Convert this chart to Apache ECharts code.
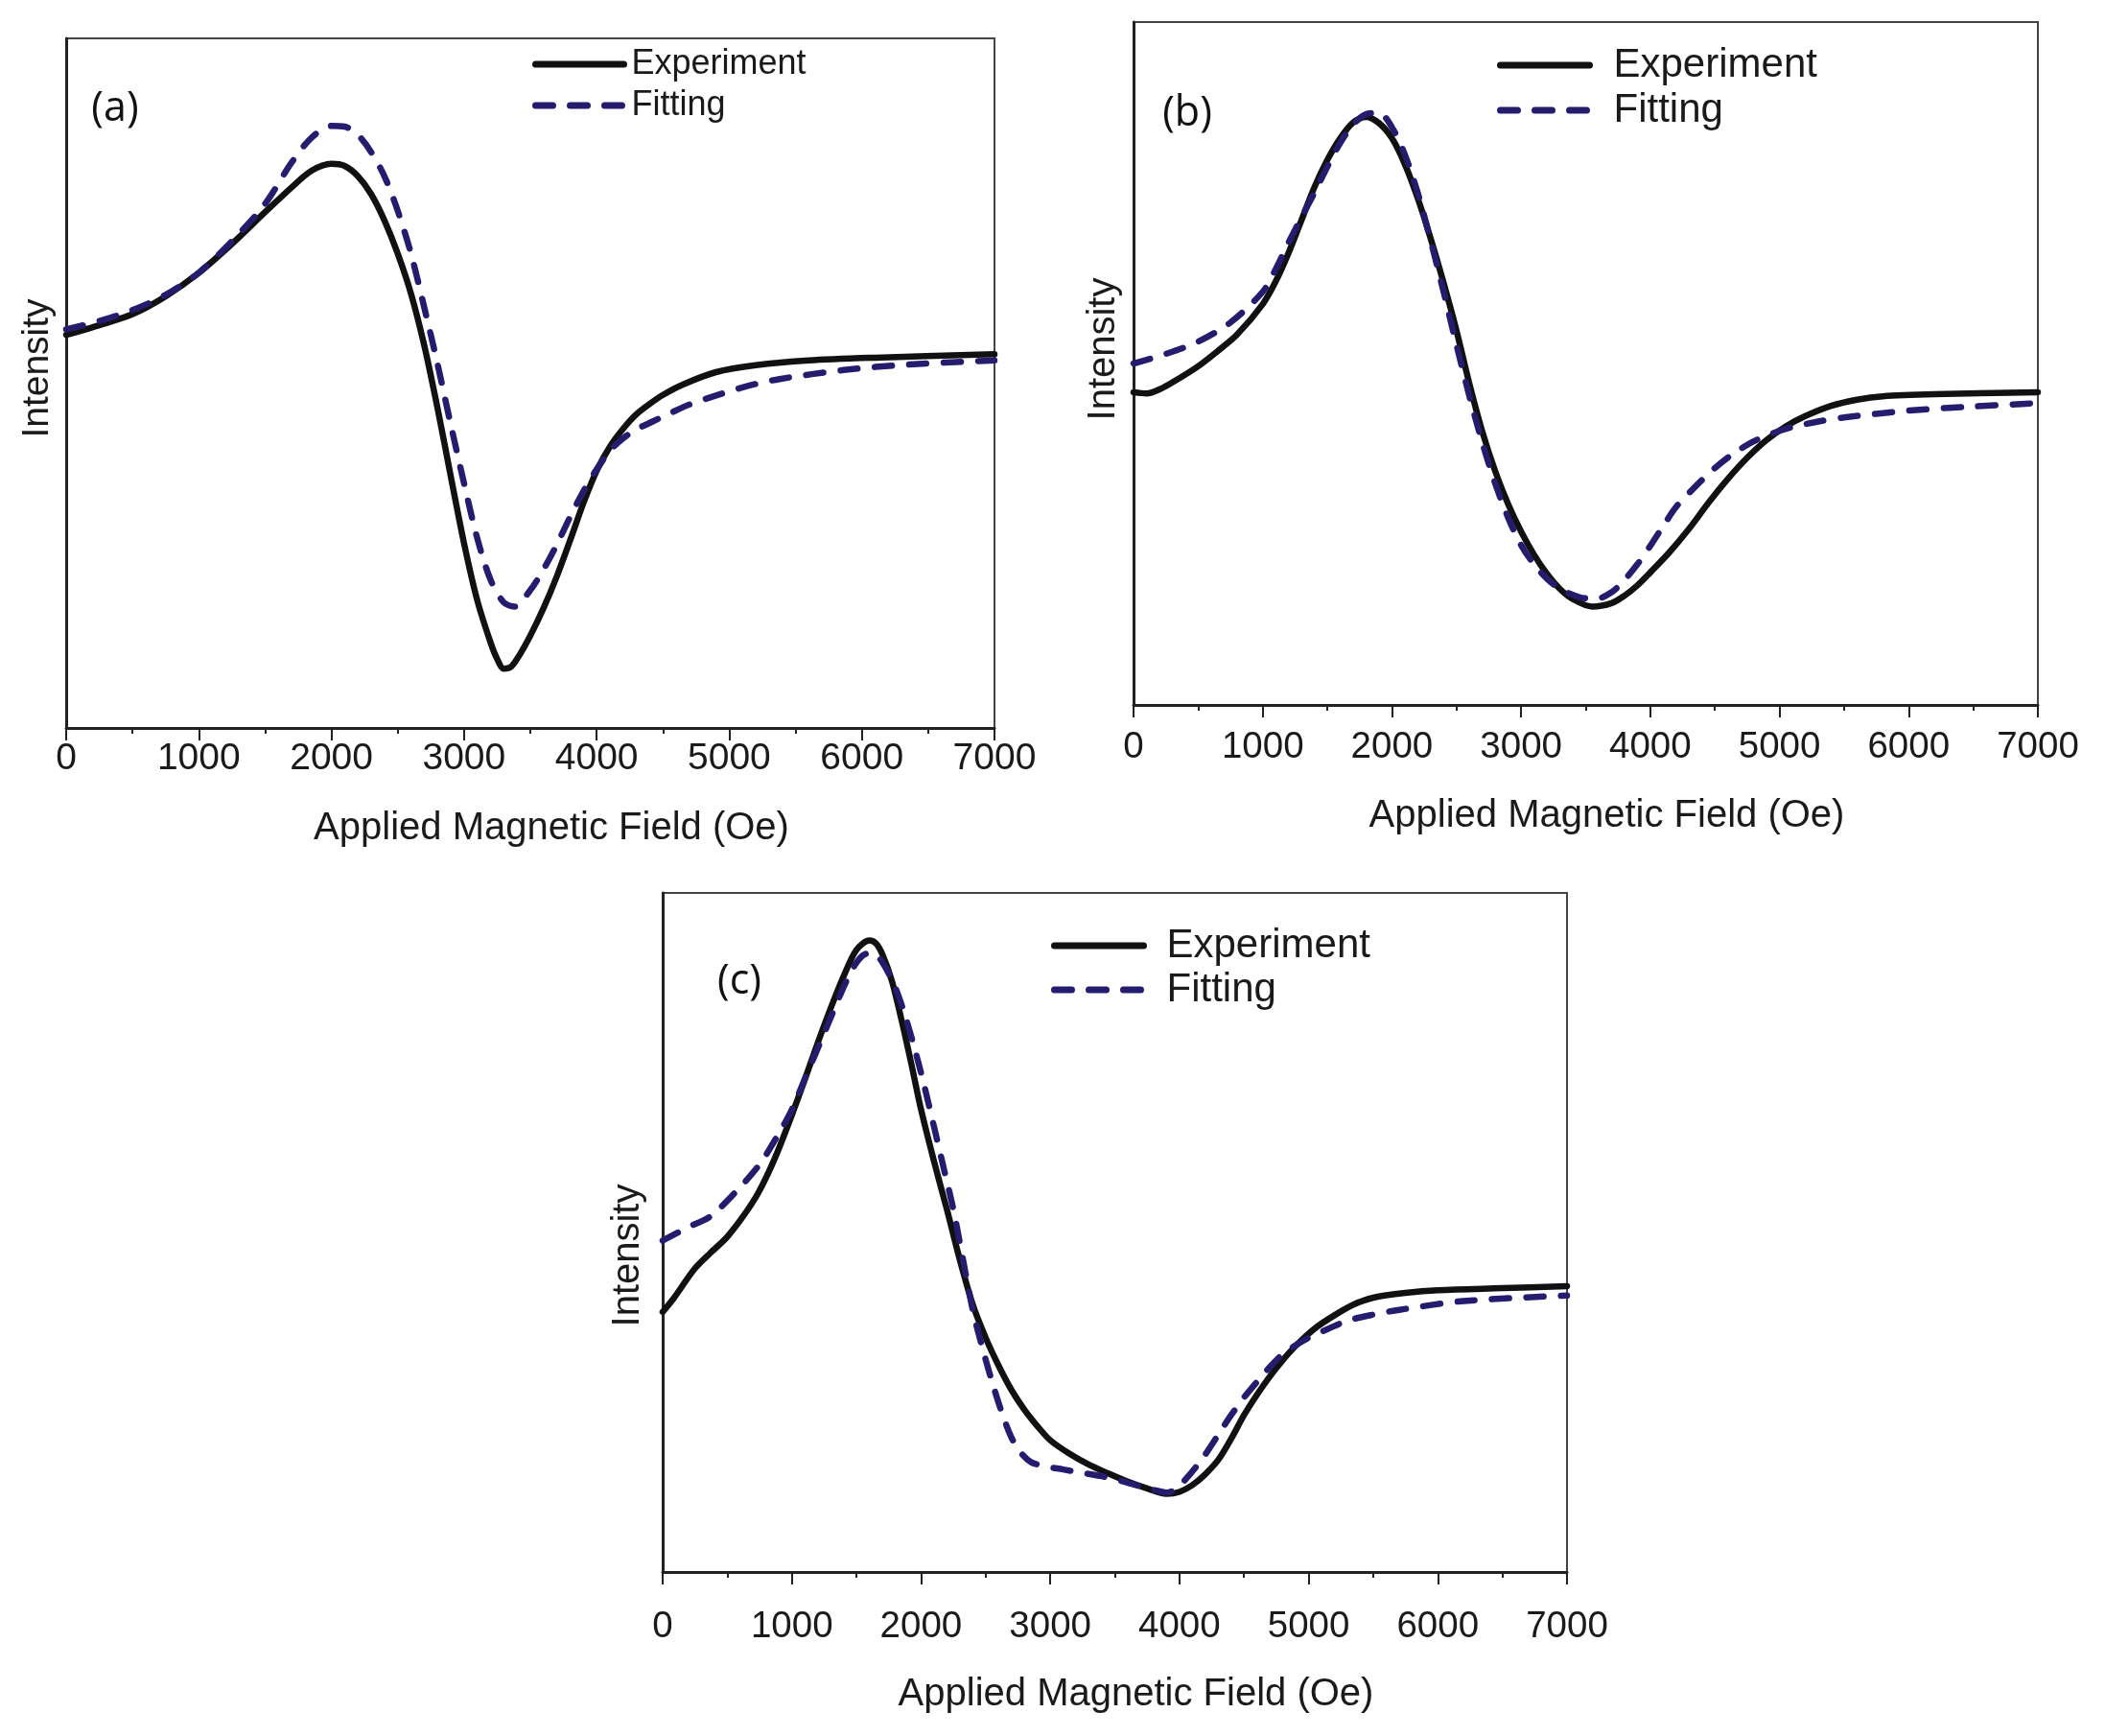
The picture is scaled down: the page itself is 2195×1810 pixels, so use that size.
<!DOCTYPE html>
<html>
<head>
<meta charset="utf-8">
<script src="https://cdn.jsdelivr.net/npm/echarts@6/dist/echarts.min.js"></script>
<style>
html,body{margin:0;padding:0;background:#fff;}
#chart{width:2195px;height:1810px;}
</style>
</head>
<body>
<div id="chart"></div>
<script>
// Panel (a)
const aExpX = [0,250,500,750,1000,1250,1500,1700,1850,2000,2100,2200,2300,2400,2500,2600,2700,2800,2900,3000,3100,3200,3250,3300,3350,3400,3500,3600,3700,3800,3900,4000,4100,4200,4300,4400,4500,4650,4900,5200,5600,6100,7000];
const aExpY = [57.0,58.4,60.0,62.6,66.0,70.2,74.8,78.4,80.8,81.8,81.5,80.0,77.4,73.6,68.8,63.0,55.5,46.4,36.5,26.8,18.5,12.4,10.0,8.6,8.8,10.0,13.4,17.4,22.0,27.2,32.6,37.3,40.8,43.4,45.5,47.0,48.3,49.8,51.6,52.6,53.3,53.7,54.2];
const aFitX = [0,250,500,750,1000,1250,1500,1700,1850,2000,2100,2200,2300,2400,2500,2600,2700,2800,2900,3000,3100,3200,3300,3380,3500,3600,3700,3800,3900,4000,4100,4200,4300,4418,4550,4700,4900,5140,5380,5862,6340,7000];
const aFitY = [57.8,59.0,60.6,62.8,66.0,70.6,76.0,82.0,85.6,87.3,87.2,86.0,83.5,80.0,75.0,68.8,61.0,52.8,44.0,35.5,27.5,21.5,18.2,17.6,20.0,23.0,26.6,30.6,34.3,37.5,40.2,42.0,43.3,44.4,45.6,46.9,48.2,49.6,50.6,51.9,52.7,53.3];
// Panel (b)
const bExpX = [0,100,200,350,500,650,800,1000,1100,1200,1300,1400,1500,1600,1700,1800,1900,2000,2100,2200,2300,2400,2500,2600,2700,2800,2900,3000,3100,3200,3300,3400,3550,3700,3800,3900,4000,4150,4300,4450,4600,4750,4900,5050,5200,5400,5600,5800,6200,7000];
const bExpY = [45.8,45.6,46.2,47.8,49.6,51.8,54.2,58.7,62.0,66.2,71.0,75.8,79.8,83.0,85.3,86.1,85.2,83.0,79.2,74.2,68.3,61.8,54.8,47.0,40.0,34.2,29.4,25.4,22.0,19.2,17.0,15.5,14.4,14.9,16.0,17.5,19.4,22.4,25.8,29.6,33.1,36.2,38.8,40.8,42.3,43.8,44.7,45.2,45.5,45.8];
const bFitX = [0,250,500,750,1000,1100,1200,1300,1400,1500,1600,1700,1800,1900,2000,2100,2200,2300,2400,2500,2600,2700,2800,2900,3000,3100,3200,3300,3450,3575,3700,3800,3900,4000,4100,4200,4350,4500,4650,4800,4950,5100,5300,5500,6000,6500,7000];
const bFitY = [50.0,51.4,53.2,56.0,60.5,63.8,67.7,71.4,75.0,78.8,82.3,85.0,86.5,86.7,84.6,80.6,75.0,68.0,60.5,52.7,45.2,38.4,32.4,27.4,23.4,20.6,18.5,17.0,15.8,15.5,16.5,18.3,20.6,23.3,26.2,29.0,32.0,34.7,36.9,38.6,39.8,40.7,41.5,42.1,43.1,43.7,44.2];
// Panel (c)
const cExpX = [0,89,245,370,497,620,742,870,1000,1100,1200,1300,1400,1500,1600,1650,1700,1775,1850,1925,2000,2100,2200,2300,2400,2500,2600,2700,2800,2900,3000,3150,3300,3450,3600,3750,3900,4000,4100,4200,4300,4400,4500,4600,4700,4800,4900,5050,5200,5350,5500,5750,6000,6500,7000];
const cExpY = [38.3,40.4,44.6,47.0,49.3,52.3,55.9,61.0,67.3,72.5,77.9,83.0,87.7,91.6,93.0,92.6,91.0,87.0,81.2,74.8,68.1,60.5,53.4,46.0,39.4,34.5,30.4,26.8,23.9,21.5,19.4,17.4,15.8,14.5,13.3,12.3,11.5,11.8,12.8,14.4,16.5,19.6,23.1,26.1,28.8,31.2,33.3,35.9,37.8,39.4,40.4,41.1,41.5,41.8,42.1];
const cFitX = [0,200,371,587,757,906,1000,1100,1200,1300,1400,1475,1550,1625,1700,1800,1875,1950,2025,2100,2175,2250,2325,2400,2475,2550,2625,2700,2775,2850,2950,3100,3250,3400,3550,3700,3800,3900,3975,4050,4125,4200,4300,4400,4500,4600,4700,4800,4900,5000,5150,5300,5500,5700,6200,7000];
const cFitY = [48.8,50.8,52.4,56.4,60.2,64.8,68.1,72.6,77.1,81.6,86.1,89.0,90.8,91.2,89.8,86.1,82.0,77.1,71.6,65.6,59.5,53.4,46.0,38.6,33.0,28.0,23.5,19.8,17.5,16.2,15.6,15.1,14.6,14.1,13.4,12.6,12.1,11.7,12.2,13.7,15.4,17.3,20.2,23.1,25.7,28.0,30.2,32.1,33.4,34.5,35.8,37.0,37.9,38.6,39.9,40.7];

const seriesNames = ['Experiment','Fitting'];
const xTitle = 'Applied Magnetic Field (Oe)';
const yTitle = 'Intensity';
const panelLabels = ['(a)','(b)','(c)'];

function zip(xs, ys){ return xs.map((x,i)=>[x,ys[i]]); }

const EXP_COLOR = '#111111';
const FIT_COLOR = '#261C6E';
const FONT = '"Liberation Sans", Arial, sans-serif';

const grids = [
  {left:69, top:40, width:968, height:719},
  {left:1182, top:23, width:943, height:712},
  {left:691, top:931, width:943, height:708}
];
const labelMargins = [13, 25, 38];
const nameGaps = [85, 96, 108];

const xAxes = grids.map((g,i)=>({
  gridIndex:i, type:'value', min:0, max:7000, interval:1000,
  name: xTitle, nameLocation:'middle', nameGap: nameGaps[i],
  nameTextStyle:{fontFamily:FONT, fontSize:40, color:'#1a1a1a', lineHeight:40, padding:[0,0,0,44]},
  axisLine:{show:true, onZero:false, lineStyle:{color:'#222', width:3}},
  axisTick:{show:true, inside:false, length:13, lineStyle:{color:'#222', width:2}},
  minorTick:{show:true, splitNumber:2, length:6, lineStyle:{color:'#222', width:2}},
  axisLabel:{show:true, margin:labelMargins[i], fontFamily:FONT, fontSize:i===0?39:38.5, color:'#1a1a1a', lineHeight:39,
    formatter: v => String(v)},
  splitLine:{show:false}
}));
const yAxes = grids.map((g,i)=>({
  gridIndex:i, type:'value', min:0, max:100,
  axisLine:{show:true, lineStyle:{color:'#222', width:3}},
  axisTick:{show:false}, axisLabel:{show:false}, splitLine:{show:false}
}));

const data = [
  [zip(aExpX,aExpY), zip(aFitX,aFitY)],
  [zip(bExpX,bExpY), zip(bFitX,bFitY)],
  [zip(cExpX,cExpY), zip(cFitX,cFitY)]
];

const series = [];
data.forEach((pair,i)=>{
  series.push({
    name: seriesNames[0], type:'line', xAxisIndex:i, yAxisIndex:i,
    data: pair[0], smooth:0.3, symbol:'none', z:3,
    lineStyle:{color:EXP_COLOR, width:6.5, cap:'round', join:'round'},
    itemStyle:{color:EXP_COLOR}
  });
  series.push({
    name: seriesNames[1], type:'line', xAxisIndex:i, yAxisIndex:i,
    data: pair[1], smooth:0.3, symbol:'none', z:4,
    lineStyle:{color:FIT_COLOR, width:6.5, type:[18,18], cap:'round', join:'round'},
    itemStyle:{color:FIT_COLOR}
  });
});

const legends = [
  {left:555, top:47, itemWidth:92, fontSize:36, lh:40, gap:3, pad:3},
  {left:1561, top:45, itemWidth:93, fontSize:42, lh:46, gap:1, pad:20},
  {left:1096, top:963, itemWidth:93, fontSize:42, lh:46, gap:0, pad:19}
].map(l=>({
  data: seriesNames, orient:'vertical', left:l.left, top:l.top,
  itemWidth:l.itemWidth, itemHeight:14, itemGap:l.gap, padding:0,
  selectedMode:false,
  itemStyle:{color:'transparent', borderWidth:0, opacity:0},
  lineStyle:{width:7, cap:'round'},
  textStyle:{fontFamily:FONT, fontSize:l.fontSize, lineHeight:l.lh, color:'#1a1a1a', padding:[0,0,0,l.pad]}
}));

const labelPos = [
  {x:120, y:114}, {x:1238, y:119}, {x:771, y:1024}
];
const intensityPos = [
  {x:39, y:384}, {x:1151, y:364}, {x:655, y:1309}
];
const graphics = [];
labelPos.forEach((p,i)=>{
  graphics.push({type:'text', x:p.x, y:p.y, z:10,
    style:{text:panelLabels[i], fontFamily:'"Open Sans", "Noto Sans", sans-serif', fontSize:43, fill:'#111',
      textAlign:'center', textVerticalAlign:'middle'}});
});
intensityPos.forEach((p,i)=>{
  graphics.push({type:'text', x:p.x, y:p.y, rotation:Math.PI/2, z:10,
    style:{text:yTitle, fontFamily:FONT, fontSize:i===0?39:40, fill:'#1a1a1a',
      textAlign:'center', textVerticalAlign:'middle'}});
});

const chart = echarts.init(document.getElementById('chart'));
chart.setOption({
  backgroundColor:'#ffffff',
  animation:false,
  grid: grids.map(g=>Object.assign({show:true, borderColor:'#444', borderWidth:2, backgroundColor:'transparent'}, g)),
  xAxis: xAxes,
  yAxis: yAxes,
  legend: legends,
  series: series,
  graphic: graphics
});
</script>
</body>
</html>
